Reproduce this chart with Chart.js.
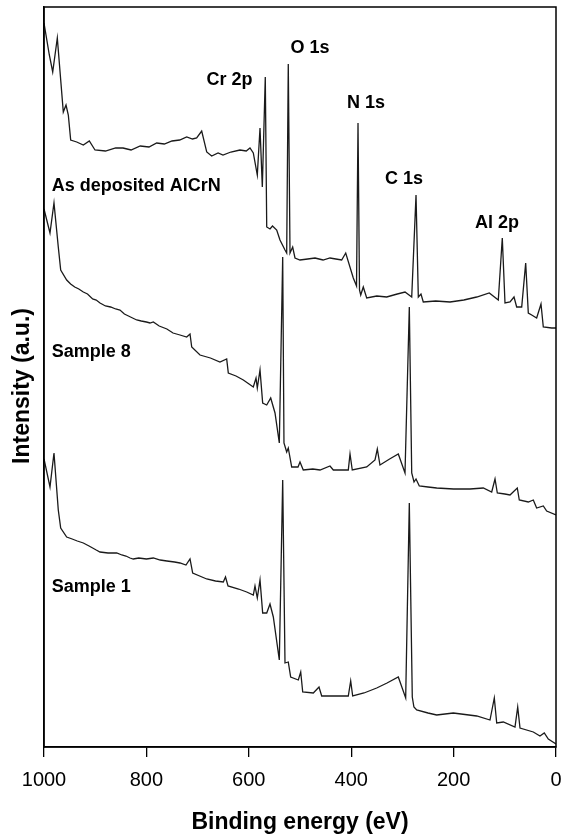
<!DOCTYPE html>
<html>
<head>
<meta charset="utf-8">
<script src="https://cdn.jsdelivr.net/npm/chart.js@4/dist/chart.umd.min.js"></script>
<style>
  html, body { margin: 0; padding: 0; background: #fff; }
  #wrap { width: 563px; height: 839px; }
</style>
</head>
<body>
<div id="wrap"><canvas id="c" width="563" height="839"></canvas></div>
<script>
// ---------- DATA ----------
const energyTicks = [1000, 800, 600, 400, 200, 0];

// As deposited AlCrN
const asDepEnergy = [1000, 989.6, 983.0, 974.0, 962.3, 957.0, 952.5, 947.9, 936.1, 923.2, 911.5, 900.4, 880, 860, 845.7, 830, 812, 795, 779.9, 765, 750, 735, 721.3, 710, 701.8, 692.0, 682.2, 672.5, 660, 650.4, 635, 617.2, 605, 597.7, 591.2, 583.4, 578.1, 573.6, 567.8, 565.0, 558.6, 553.7, 545.5, 539.1, 529.3, 526.0, 522.9, 519.5, 514.3, 509.8, 500.0, 485, 470.7, 455, 441.4, 430, 418.6, 410.7, 395.9, 389.6, 386.7, 383.8, 381.4, 376.4, 369.7, 350, 330.7, 310, 294.9, 281.8, 273.4, 268.9, 263.7, 259.2, 235, 207.0, 180, 154.9, 130.3, 112.7, 104.9, 99.6, 89.8, 82.0, 76.8, 67.0, 59.2, 54.1, 47.5, 37.8, 29.3, 24.8, 8.4, 0];
const asDepIntensity = [724, 692, 675, 709, 635, 642, 632, 607, 605, 602, 606, 597, 596, 599, 599, 597, 601, 600, 604, 603, 606, 607, 610, 608, 609, 616, 595, 591, 594, 592, 595, 597, 596, 599, 594, 572, 619, 560, 670, 520, 518, 521, 517, 507, 497, 494, 683, 494, 500, 489, 487, 488, 489, 487, 489, 488, 487, 494, 469, 461, 624, 457, 452, 460, 449, 451, 450, 453, 455, 450, 552, 450, 453, 445, 446, 445, 447, 450, 454, 447, 509, 444, 445, 450, 440, 440, 484, 434, 432, 429, 443, 420, 419, 419];

// Sample 8
const s8Energy = [1000, 988.3, 980.5, 972.1, 967.4, 955.7, 948, 940, 932, 923.2, 915, 905, 898, 890.6, 880, 870, 860, 851.6, 843, 835, 827, 818.9, 810, 800, 793, 786.5, 775, 760, 748, 734.4, 721.3, 714.8, 711.5, 695.3, 675, 656.3, 643.2, 640.0, 625, 610.7, 591.2, 585.9, 583.4, 578.1, 572.9, 565.0, 557.2, 548.8, 540.4, 533.8, 531.3, 526.0, 522.9, 516.2, 503.9, 500.0, 493.6, 475, 460.9, 441.4, 434.9, 420, 405.7, 402.3, 397.9, 369.7, 353.5, 349.0, 343.8, 325, 308.0, 294.9, 286.5, 281.8, 277.3, 273.4, 267.0, 250, 233.0, 200, 168.0, 142.0, 125.6, 119.1, 114.6, 100, 89.8, 75.6, 71.7, 54.1, 44.3, 37.8, 24.8, 18.2, 0];
const s8Intensity = [538, 514, 544, 500, 477, 467, 463, 460, 458, 455, 453, 448, 447, 444, 441, 440, 438, 437, 433, 431, 429, 427, 426, 425, 424, 425, 421, 418, 414, 412, 410, 413, 400, 392, 389, 385, 388, 374, 371, 367, 360, 369, 359, 377, 344, 342, 349, 334, 304, 490, 304, 295, 299, 280, 280, 285, 277, 278, 277, 281, 277, 277, 277, 293, 277, 280, 287, 298, 282, 288, 293, 274, 440, 274, 265, 268, 261, 260, 259, 258, 258, 259, 255, 268, 254, 253, 252, 259, 247, 245, 247, 239, 241, 236, 232];

// Sample 1
const s1Energy = [1000, 988.3, 980.5, 972.1, 967.4, 955.7, 945, 935, 923.2, 912, 905, 898, 890.6, 875, 858.0, 848, 840, 832, 825.6, 815, 800, 786.5, 773, 760, 745, 734.4, 722.7, 714.8, 709.6, 682.2, 665, 649.8, 645.5, 640.6, 620, 604.1, 591.2, 587.9, 583.4, 578.1, 572.9, 565.0, 558.6, 552.1, 540.4, 533.8, 529.3, 522.9, 518.2, 503.3, 498.6, 494.7, 474.0, 462.9, 457.6, 430, 405.7, 401.0, 397.1, 375, 350.2, 330, 308.0, 293.6, 286.5, 280.7, 277.5, 272.1, 250, 233.0, 200.6, 154.9, 128.9, 120.5, 115.8, 102.9, 80.1, 74.8, 70.3, 44.3, 31.3, 22.9, 15.0, 0];
const s1Intensity = [288, 260, 294, 237, 219, 210, 208, 206, 204, 201, 199, 197, 195, 194, 194, 192, 191, 189, 188, 189, 188, 189, 187, 186, 185, 184, 182, 188, 174, 168, 166, 165, 170, 161, 158, 155, 152, 161, 149, 167, 134, 134, 143, 130, 87, 267, 84, 85, 70, 67, 75, 55, 54, 60, 51, 51, 51, 66, 51, 54, 59, 64, 70, 49, 244, 50, 40, 37, 34, 32, 34, 31, 27, 49, 24, 25, 20, 40, 19, 15, 11, 14, 8, 3];

// Annotations (text only), placed in data coordinates
const peakNames = ['Cr 2p', 'O 1s', 'N 1s', 'C 1s', 'Al 2p'];
const peakLabelEnergy = [637.7, 480.5, 371.1, 296.9, 115.3];
const peakLabelIntensity = [667, 699, 643.5, 567.5, 524];

const sampleNames = ['As deposited AlCrN', 'Sample 8', 'Sample 1'];
const sampleLabelEnergy = [985, 985, 985];
const sampleLabelIntensity = [561, 395, 160];

const yTitle = 'Intensity (a.u.)';
const yTitleIntensity = 361;   // vertical centre of the y-axis title, in intensity units

// ---------- CHART ----------
const FONT = '"Liberation Sans", Arial, Helvetica, sans-serif';
const toXY = (xs, ys) => xs.map((x, i) => ({ x: x, y: ys[i] }));
const lineStyle = { borderColor: '#1a1a1a', borderWidth: 1.3, pointRadius: 0, tension: 0, fill: false };

const framePlugin = {
  id: 'frame',
  afterDraw(chart) {
    const { ctx, chartArea: a } = chart;
    ctx.save();
    ctx.strokeStyle = '#000';
    ctx.lineWidth = 1.5;
    ctx.strokeRect(a.left, a.top, a.right - a.left, a.bottom - a.top);
    ctx.restore();
  }
};

const labelPlugin = {
  id: 'labels',
  afterDatasetsDraw(chart) {
    const { ctx, scales: { x, y } } = chart;
    ctx.save();
    ctx.fillStyle = '#000';
    ctx.font = 'bold 18px ' + FONT;
    ctx.textBaseline = 'middle';
    ctx.textAlign = 'center';
    peakNames.forEach((t, i) => {
      ctx.fillText(t, x.getPixelForValue(peakLabelEnergy[i]), y.getPixelForValue(peakLabelIntensity[i]));
    });
    ctx.textAlign = 'left';
    sampleNames.forEach((t, i) => {
      ctx.fillText(t, x.getPixelForValue(sampleLabelEnergy[i]), y.getPixelForValue(sampleLabelIntensity[i]));
    });
    // y-axis title
    ctx.font = 'bold 23px ' + FONT;
    ctx.textAlign = 'center';
    ctx.translate(y.left + 22.5, y.getPixelForValue(yTitleIntensity));
    ctx.rotate(-Math.PI / 2);
    ctx.fillText(yTitle, 0, 0);
    ctx.restore();
  }
};

new Chart(document.getElementById('c'), {
  type: 'line',
  data: {
    datasets: [
      Object.assign({ label: 'As deposited AlCrN', data: toXY(asDepEnergy, asDepIntensity) }, lineStyle),
      Object.assign({ label: 'Sample 8', data: toXY(s8Energy, s8Intensity) }, lineStyle),
      Object.assign({ label: 'Sample 1', data: toXY(s1Energy, s1Intensity) }, lineStyle)
    ]
  },
  options: {
    responsive: false,
    animation: false,
    devicePixelRatio: 1,
    layout: { padding: { top: 7, right: 7, left: 0, bottom: 0 } },
    plugins: { legend: { display: false }, tooltip: { enabled: false } },
    scales: {
      x: {
        type: 'linear',
        reverse: true,
        min: 0,
        max: 1000,
        afterBuildTicks(scale) { scale.ticks = energyTicks.map(v => ({ value: v })); },
        afterFit(scale) { scale.height = 92; scale.paddingLeft = 0; scale.paddingRight = 0; },
        ticks: { color: '#000', font: { family: FONT, size: 20 }, padding: 11, maxRotation: 0, autoSkip: false,
                 callback: (v) => String(v) },
        grid: { display: true, drawOnChartArea: false, drawTicks: true, tickLength: 10, color: '#000', lineWidth: 1.3 },
        border: { display: true, color: '#000', width: 1.5 },
        title: { display: true, text: 'Binding energy (eV)', color: '#000', font: { family: FONT, size: 23, weight: 'bold' }, padding: { top: 0, bottom: 3 } }
      },
      y: {
        type: 'linear',
        min: 0,
        max: 740,
        afterFit(scale) { scale.width = 44; },
        ticks: { display: false },
        grid: { display: false },
        border: { display: true, color: '#000', width: 1.5 },
        title: { display: false }
      }
    }
  },
  plugins: [framePlugin, labelPlugin]
});
</script>
</body>
</html>
